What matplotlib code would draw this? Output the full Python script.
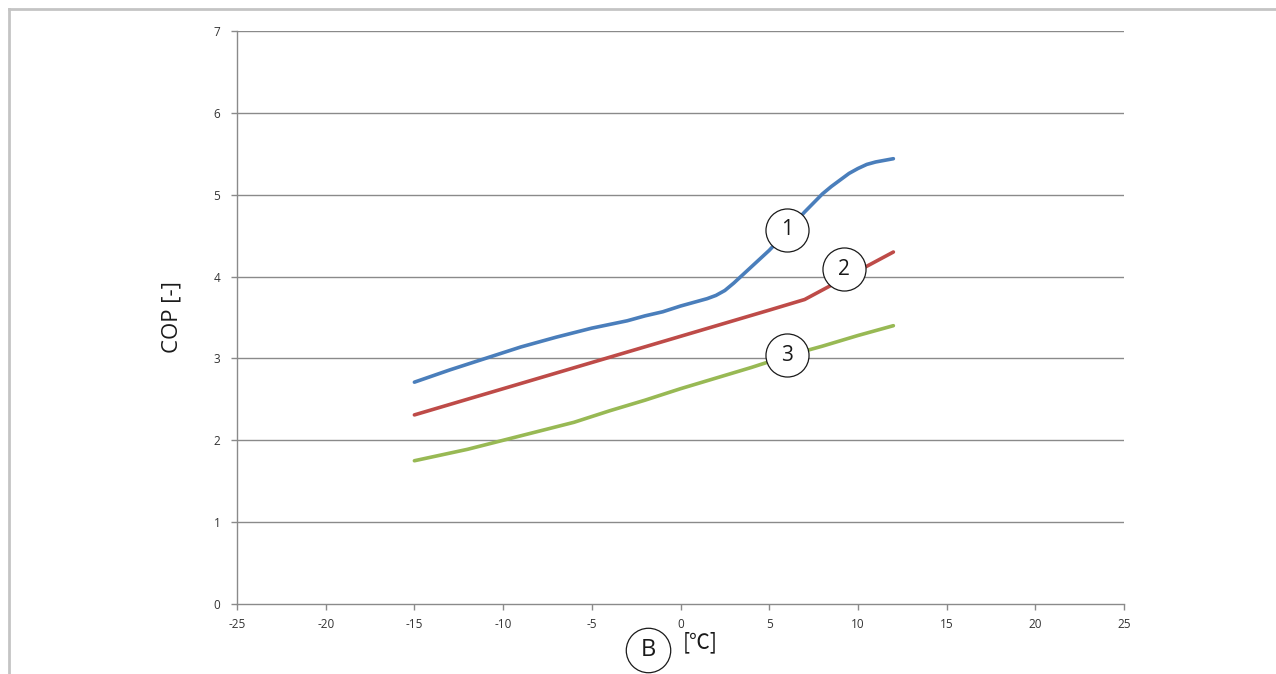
import matplotlib
matplotlib.use("Agg")
import matplotlib.pyplot as plt
from matplotlib.lines import Line2D

# Data
x_blue = [-15, -13, -11, -9, -7, -5, -3, -2, -1, 0, 1, 1.5, 2, 2.5, 3, 3.5, 4, 5, 6, 7, 8, 8.5, 9, 9.5, 10, 10.5, 11, 11.5, 12]
y_blue = [2.71, 2.86, 3.00, 3.14, 3.26, 3.37, 3.46, 3.52, 3.57, 3.64, 3.70, 3.73, 3.77, 3.83, 3.92, 4.02, 4.12, 4.32, 4.55, 4.79, 5.01, 5.10, 5.18, 5.26, 5.32, 5.37, 5.40, 5.42, 5.44]
x_red = [-15, -10, -5, 0, 5, 7, 12]
y_red = [2.31, 2.63, 2.95, 3.27, 3.59, 3.72, 4.30]
x_green = [-15, -12, -10, -8, -6, -4, -2, 0, 2, 4, 6, 8, 10, 12]
y_green = [1.75, 1.89, 2.00, 2.11, 2.22, 2.36, 2.49, 2.63, 2.76, 2.89, 3.03, 3.15, 3.28, 3.40]
x_ticks = [-25, -20, -15, -10, -5, 0, 5, 10, 15, 20, 25]
y_ticks = [0, 1, 2, 3, 4, 5, 6, 7]
labels = ["1", "2", "3"]
label_x = [6.0, 9.2, 6.0]
label_y = [4.57, 4.09, 3.04]

plt.rcParams['font.family'] = ['Open Sans', 'DejaVu Sans']

W, H = 1276, 674
fig = plt.figure(figsize=(W / 100, H / 100), dpi=100)
ax = fig.add_axes([237 / W, (H - 604) / H, (1124 - 237) / W, (604 - 31) / H])

grid_c = '#8a8a8a'
for yt in y_ticks[1:]:
    ax.axhline(yt, color=grid_c, lw=1.0, zorder=1)

ax.plot(x_blue, y_blue, color='#4a7ebb', lw=2.6, solid_capstyle='round', solid_joinstyle='round', zorder=3)
ax.plot(x_red, y_red, color='#be4b48', lw=2.6, solid_capstyle='round', solid_joinstyle='round', zorder=3)
ax.plot(x_green, y_green, color='#98b954', lw=2.6, solid_capstyle='round', solid_joinstyle='round', zorder=3)

for t, lx, ly in zip(labels, label_x, label_y):
    ax.plot(lx, ly, 'o', ms=31, mfc='white', mec='#1a1a1a', mew=0.9, zorder=4)
    ax.text(lx, ly, t, ha='center', va='center', fontsize=15, color='#1a1a1a', zorder=5)

# B circle below axis
ax.plot(-1.83, -0.56, 'o', ms=32, mfc='white', mec='#1a1a1a', mew=0.9, zorder=4, clip_on=False)
ax.text(-1.83, -0.56, 'B', ha='center', va='center', fontsize=17, color='#1a1a1a', zorder=5, clip_on=False)
ax.text(0.15, -0.47, '[℃]', ha='left', va='center', fontsize=15, color='#1a1a1a',
        family=['Noto Sans CJK JP', 'DejaVu Sans'])

ax.set_xlim(-25, 25)
ax.set_ylim(0, 7)
ax.set_xticks(x_ticks)
ax.set_yticks(y_ticks)
ax.set_xticklabels([str(v) for v in x_ticks])
ax.set_yticklabels([str(v) for v in y_ticks])
ax.tick_params(axis='both', colors='#8a8a8a', labelcolor='#333333', labelsize=8.5, length=4, width=1, direction='out')
ax.tick_params(axis='x', pad=6)
ax.tick_params(axis='y', pad=8)
for side in ['top', 'right']:
    ax.spines[side].set_visible(False)
for side in ['left', 'bottom']:
    ax.spines[side].set_color('#8a8a8a')
    ax.spines[side].set_linewidth(1.0)

ax.set_ylabel('COP [-]', fontsize=16, color='#1a1a1a', labelpad=22)

# Outer frame (top and left)
fig.add_artist(Line2D([9 / W, 1.0], [1 - 9 / H, 1 - 9 / H], transform=fig.transFigure, color='#c4c4c4', lw=2))
fig.add_artist(Line2D([9 / W, 9 / W], [0, 1 - 9 / H], transform=fig.transFigure, color='#c4c4c4', lw=2))

fig.savefig('out.png', dpi=100)
